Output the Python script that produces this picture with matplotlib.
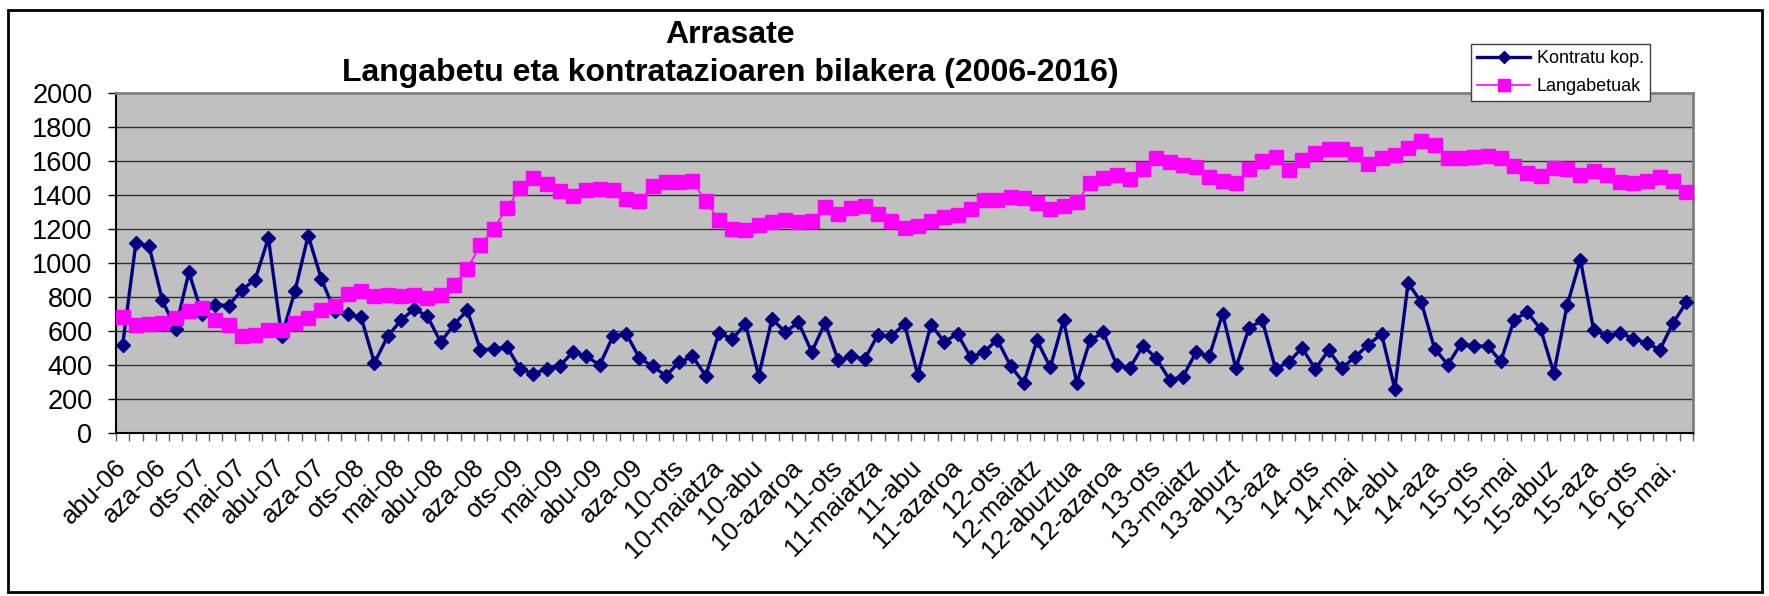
import numpy as np
import matplotlib
matplotlib.use("Agg")
import matplotlib.pyplot as plt
from matplotlib.patches import Rectangle

plt.rcParams['font.family'] = ['Liberation Sans', 'DejaVu Sans']

# monthly values, abu-06 .. 16-ekai (119 months)
kontratu = [516, 1118, 1098, 780, 614, 945, 700, 755, 749, 843,
            902, 1147, 569, 833, 1161, 906, 716, 702, 680, 412,
            569, 663, 730, 686, 535, 637, 722, 490, 494, 506,
            377, 349, 377, 396, 478, 451, 400, 569, 584, 441,
            392, 337, 416, 451, 337, 588, 553, 641, 337, 671,
            594, 651, 477, 647, 427, 451, 435, 578, 569, 641,
            343, 637, 537, 582, 445, 477, 549, 396, 294, 545,
            386, 663, 294, 545, 592, 402, 382, 514, 439, 314,
            329, 475, 451, 701, 382, 618, 663, 377, 418, 500,
            377, 486, 382, 447, 520, 582, 259, 882, 769, 496,
            402, 526, 510, 512, 422, 667, 710, 612, 353, 751,
            1020, 608, 569, 588, 555, 529, 490, 647, 769]

langabetuak = [680, 633, 643, 647, 677, 720, 735, 667, 633, 569,
               578, 608, 604, 647, 677, 726, 745, 820, 837, 804,
               811, 804, 810, 794, 810, 869, 967, 1104, 1202, 1324,
               1441, 1500, 1465, 1426, 1396, 1432, 1435, 1432, 1377, 1367,
               1451, 1478, 1475, 1481, 1363, 1255, 1200, 1196, 1226, 1239,
               1255, 1241, 1249, 1330, 1290, 1324, 1337, 1290, 1245, 1206,
               1216, 1245, 1269, 1284, 1318, 1369, 1373, 1388, 1382, 1353,
               1320, 1333, 1357, 1471, 1500, 1520, 1496, 1555, 1618, 1592,
               1579, 1565, 1506, 1485, 1471, 1553, 1598, 1622, 1549, 1608,
               1647, 1671, 1673, 1643, 1584, 1618, 1637, 1677, 1720, 1696,
               1618, 1618, 1622, 1630, 1618, 1569, 1530, 1514, 1559, 1553,
               1520, 1539, 1520, 1475, 1471, 1481, 1506, 1481, 1416]

tick_labels = ['abu-06', 'aza-06', 'ots-07', 'mai-07', 'abu-07', 'aza-07',
               'ots-08', 'mai-08', 'abu-08', 'aza-08', 'ots-09', 'mai-09',
               'abu-09', 'aza-09', '10-ots', '10-maiatza', '10-abu', '10-azaroa',
               '11-ots', '11-maiatza', '11-abu', '11-azaroa', '12-ots', '12-maiatz',
               '12-abuztua', '12-azaroa', '13-ots', '13-maiatz', '13-abuzt', '13-aza',
               '14-ots', '14-mai', '14-abu', '14-aza', '15-ots', '15-mai',
               '15-abuz', '15-aza', '16-ots', '16-mai.']

W, H = 1769, 596
fig = plt.figure(figsize=(W / 100, H / 100), dpi=100)
ax = fig.add_axes([116 / W, 1 - 433 / H, (1693 - 116) / W, (433 - 93) / H])
ax.set_facecolor('#C0C0C0')

x = np.arange(len(kontratu))
ax.plot(x, kontratu, color='#000080', lw=2.4, marker='D', ms=7.2,
        label='Kontratu kop.', zorder=3)
ax.plot(x, langabetuak, color='#FF00FF', lw=1.2, marker='s', ms=10,
        label='Langabetuak', zorder=4)

ax.set_ylim(0, 2000)
ax.set_xlim(-0.5, len(x) - 0.5)
ax.set_yticks(range(0, 2001, 200))
ax.yaxis.grid(True, color='#303030', lw=1.0)
ax.set_axisbelow(True)
ax.tick_params(axis='y', labelsize=19.5, length=6, width=1, pad=11)

ax.set_xticks(np.arange(-0.5, len(x), 1))
ax.set_xticklabels([])
ax.tick_params(axis='x', which='major', length=6, width=1, color='#606060')
ax.set_xticks(np.arange(0, len(x), 3)[:len(tick_labels)], minor=True)
ax.set_xticklabels(tick_labels, minor=True, rotation=45, ha='right',
                   va='center', rotation_mode='anchor', fontsize=18.5)
ax.tick_params(axis='x', which='minor', length=0, pad=22)

for s in ['top', 'right']:
    ax.spines[s].set_color('#808080')
    ax.spines[s].set_linewidth(2)
for s in ['left', 'bottom']:
    ax.spines[s].set_color('black')
    ax.spines[s].set_linewidth(1.5)

fig.text(730 / W, 1 - 43 / H, 'Arrasate', ha='center', va='baseline',
         fontsize=23, fontweight='bold')
fig.text(730 / W, 1 - 81 / H, 'Langabetu eta kontratazioaren bilakera (2006-2016)',
         ha='center', va='baseline', fontsize=23, fontweight='bold')

leg = fig.legend(loc='upper left', bbox_to_anchor=(1471 / W, 1 - 44 / H),
                 fontsize=13, handlelength=2.9, fancybox=False, framealpha=1,
                 edgecolor='#404040', borderaxespad=0, borderpad=0.35,
                 labelspacing=0.6, handletextpad=0.4, markerscale=0.8)
leg.get_frame().set_linewidth(1)

fig.patches.append(Rectangle((8 / W, 1 - 592 / H), (1762 - 8) / W, (592 - 10) / H,
                             transform=fig.transFigure, fill=False,
                             edgecolor='black', lw=2))

plt.savefig('out.png', dpi=100)
